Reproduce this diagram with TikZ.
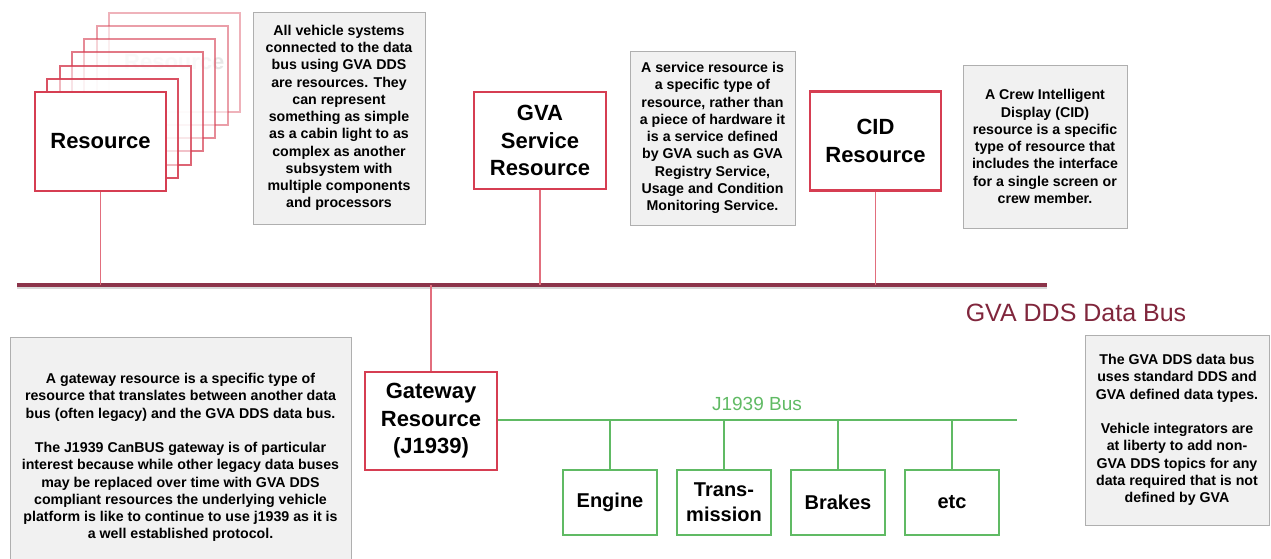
\documentclass[tikz,border=0pt]{standalone}
\usepackage{fontspec}
\setmainfont{Liberation Sans}
\definecolor{resred}{RGB}{214,62,82}
\definecolor{linkred}{RGB}{226,110,125}
\definecolor{busred}{RGB}{140,52,74}
\definecolor{buslabel}{RGB}{128,38,60}
\definecolor{jgreen}{RGB}{96,186,100}
\definecolor{notegray}{RGB}{175,175,175}
\definecolor{notefill}{RGB}{241,241,241}
\tikzset{
  resbox/.style={draw=resred, line width=2.2pt, fill=white, minimum width=131, minimum height=99,
    font=\bfseries\fontsize{22}{27.5}\selectfont, align=center, inner sep=0},
  ghostbox/.style={draw=resred, line width=2pt, fill=white, fill opacity=0.55, text opacity=0.2,
    minimum width=131, minimum height=99, font=\bfseries\fontsize{22}{27.5}\selectfont, inner sep=0},
  gbox/.style={draw=jgreen, line width=2.2pt, fill=white, minimum width=94, minimum height=65,
    font=\bfseries\fontsize{20}{25}\selectfont, align=center, inner sep=0},
  note/.style={draw=notegray, fill=notefill, line width=0.9pt, inner sep=0,
    font=\bfseries\fontsize{14.2}{17.25}\selectfont, align=center},
  link/.style={draw=linkred, line width=1.6pt},
  glink/.style={draw=jgreen, line width=1.6pt},
}
\begin{document}
\begin{tikzpicture}[x=1pt,y=-1pt]
\useasboundingbox (0,0) rectangle (1271,558);
\clip (0,0) rectangle (1271,558);

% stacked resource boxes
\node[ghostbox, draw opacity=0.4] (ghost6) at ({100.5+12.3*6},{141.5-13.2*6}) {Resource};
\foreach \k in {5,4,3,2,1}{
  \pgfmathsetmacro{\op}{1-0.1*\k}
  \node[ghostbox, draw opacity=\op] (ghost\k) at ({100.5+12.3*\k},{141.5-13.2*\k}) {};
}
\node[resbox] (res) at (100.5,141.5) {Resource};
\node[resbox, minimum width=132, minimum height=97] (gva) at (540,140.5) {GVA\\Service\\Resource};
\node[resbox] (cid) at (875.5,141) {CID\\Resource};
\node[resbox, minimum width=132, minimum height=98] (gw) at (431,421) {Gateway\\Resource\\(J1939)};

% notes
\node[note, minimum width=172, minimum height=212] (n1) at (339,118) {All vehicle systems\\connected to the data\\bus using GVA DDS\\are resources. They\\can represent\\something as simple\\as a cabin light to as\\complex as another\\subsystem with\\multiple components\\and processors};
\node[note, minimum width=165, minimum height=174] (n2) at (712.5,138) {A service resource is\\a specific type of\\resource, rather than\\a piece of hardware it\\is a service defined\\by GVA such as GVA\\Registry Service,\\Usage and Condition\\Monitoring Service.};
\node[note, minimum width=164, minimum height=163] (n3) at (1045,146.5) {A Crew Intelligent\\Display (CID)\\resource is a specific\\type of resource that\\includes the interface\\for a single screen or\\crew member.};
\node[note, minimum width=341, minimum height=241] (n4) at (180.5,457.5) {A gateway resource is a specific type of\\resource that translates between another data\\bus (often legacy) and the GVA DDS data bus.\\[17.25pt]The J1939 CanBUS gateway is of particular\\interest because while other legacy data buses\\may be replaced over time with GVA DDS\\compliant resources the underlying vehicle\\platform is like to continue to use j1939 as it is\\a well established protocol.};
\node[note, minimum width=184, minimum height=190] (n5) at (1177,430) {The GVA DDS data bus\\uses standard DDS and\\GVA defined data types.\\[17.25pt]Vehicle integrators are\\at liberty to add non-\\GVA DDS topics for any\\data required that is not\\defined by GVA};

% GVA DDS data bus
\coordinate (busL) at (17,285);
\coordinate (busR) at (1047,285);
\draw[line width=4pt, black, opacity=0.15] ([yshift=-1.5pt]busL) -- ([yshift=-1.5pt]busR);
\draw[line width=4pt, busred] (busL) -- (busR);
\node[text=buslabel, font=\fontsize{25}{30}\selectfont] (buslbl) at (1076,313) {GVA DDS Data Bus};

\draw[link] (res.south) -- (res.south |- busL);
\draw[link] (gva.south) -- (gva.south |- busL);
\draw[link] (cid.south) -- (cid.south |- busL);
\draw[link] (gw.north |- busL) -- (gw.north);

% J1939 bus
\coordinate (jR) at (1017,420);
\draw[glink] (gw.east |- jR) -- (jR);
\node[text=jgreen, font=\fontsize{19}{23}\selectfont] (jlbl) at (757,404) {J1939 Bus};

\node[gbox] (eng) at (610,502.5) {Engine};
\node[gbox] (trans) at (724,502.5) {Trans-\\mission};
\node[gbox] (brk) at (838,502.5) {Brakes};
\node[gbox] (etc) at (952,502.5) {etc};
\foreach \b in {eng,trans,brk,etc}{
  \draw[glink] (\b.north |- jR) -- (\b.north);
}
\end{tikzpicture}
\end{document}
